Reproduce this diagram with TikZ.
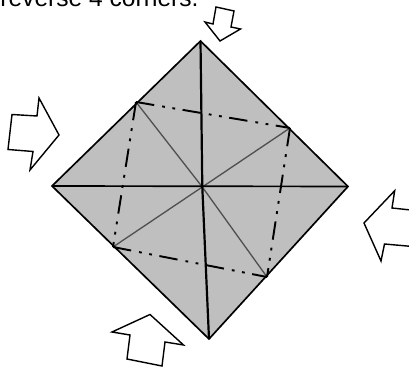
\documentclass[tikz,border=0pt]{standalone}
\usepackage{fontspec}
\setmainfont{Liberation Sans}
\definecolor{paper}{RGB}{191,191,191}
\definecolor{crease}{RGB}{80,80,80}
\tikzset{
    fold/.style={line width=0.95pt, black},
    valley/.style={crease, line width=0.75pt},
    chain/.style={line width=1.1pt, black, dash pattern=on 10.5pt off 4.6pt on 1.6pt off 4.3pt on 1.6pt off 4.3pt},
    pusher/.style={draw=black, fill=white, line width=0.8pt, line join=miter}
}
\begin{document}
\begin{tikzpicture}[x=0.02cm, y=-0.02cm]
    \useasboundingbox (0,0) rectangle (409,367);
    \clip (0,0) rectangle (409,367);

    % Corners of the square
    \coordinate (top) at (200.5,41);
    \coordinate (left) at (52,186);
    \coordinate (right) at (348,186.5);
    \coordinate (bottom) at (209,339);
    \coordinate (mid) at (202.3,187);

    % Ends of the chain lines
    \coordinate (ul) at (136,102);
    \coordinate (ur) at (290,128);
    \coordinate (lr) at (267,277);
    \coordinate (ll) at (113,247);

    % Paper
    \fill[paper] (top) -- (right) -- (bottom) -- (left) -- cycle;

    % Thin creases
    \draw[valley] (ul) -- (mid) -- (lr);
    \draw[valley] (ur) -- (mid) -- (ll);

    % Chain lines
    \draw[chain] (ul) -- (ur);
    \draw[chain] (ur) -- (lr);
    \draw[chain] (ll) -- (lr);
    \draw[chain] (ul) -- (ll);

    % Main folds
    \draw[fold] (left) -- (right);
    \draw[fold, line width=1.25pt] (top) -- (mid) -- (bottom);
    \draw[fold] (top) -- (right) -- (bottom) -- (left) -- cycle;

    % Arrows
    \draw[pusher] (39,98) -- (59,135) -- (30,170) -- (33,151.5) -- (8,149.5) -- (12,114.5) -- (37,116) -- cycle;
    \draw[pusher] (216,7) -- (234,11) -- (231,27) -- (240.5,29) -- (220,41) -- (205,22) -- (213,24) -- cycle;
    \draw[pusher] (394.7,190.7) -- (392,208) -- (420,211) -- (418,247) -- (384.5,244) -- (381,261) -- (364,223) -- cycle;
    \draw[pusher] (150,314.5) -- (183.5,345) -- (165,342) -- (162,366) -- (127,359) -- (130,335) -- (112,332) -- cycle;

    % Caption
    \node[anchor=base west, inner sep=0pt, font=\fontsize{14pt}{16pt}\selectfont] (caption) at (0,7) {reverse 4 corners.};
\end{tikzpicture}
\end{document}
